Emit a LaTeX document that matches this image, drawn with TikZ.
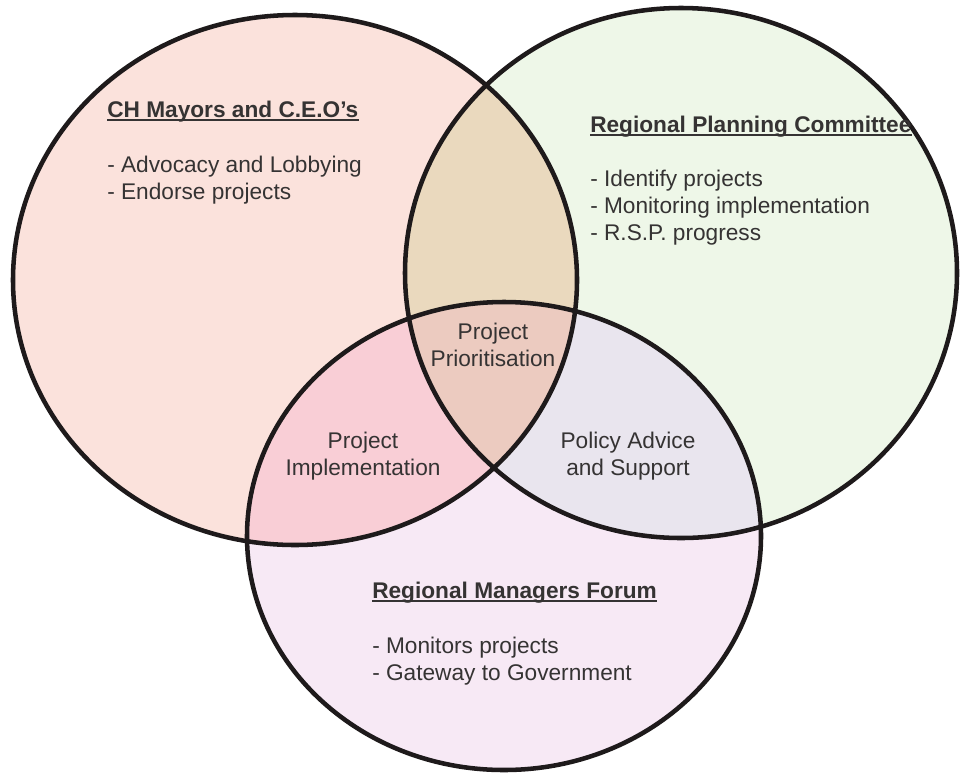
\documentclass[tikz,border=0pt]{standalone}
\usepackage{fontspec}
\setmainfont{Liberation Sans}
\definecolor{cLeft}{HTML}{FBE2DC}
\definecolor{cRight}{HTML}{EEF7E8}
\definecolor{cBottom}{HTML}{F7E9F5}
\definecolor{cLR}{HTML}{EAD9BE}
\definecolor{cLB}{HTML}{F9CED6}
\definecolor{cRB}{HTML}{E9E5EE}
\definecolor{cAll}{HTML}{ECCBC0}
\definecolor{outline}{HTML}{1E1A1B}
\definecolor{txt}{HTML}{353333}
\tikzset{
  ring/.style={draw=outline, line width=3.4pt},
  body/.style={font=\fontsize{17}{20}\selectfont, text=txt, inner sep=0pt, align=left, anchor=base west},
  heading/.style={font=\fontsize{17}{20}\selectfont\bfseries, text=txt, inner sep=0pt, anchor=base west},
  overlap/.style={font=\fontsize{17}{20}\selectfont, text=txt, inner sep=0pt, align=center},
  rule/.style={draw=txt, line width=1pt}
}
\newcommand{\setL}{(295,280) ellipse [x radius=211.5pt, y radius=198.75pt]}
\newcommand{\setR}{(681,273) ellipse [x radius=207pt, y radius=198.75pt]}
\newcommand{\setB}{(504,536) ellipse [x radius=192.75pt, y radius=175.5pt]}
\begin{document}
\begin{tikzpicture}[x=0.75pt, y=-0.75pt]
  \useasboundingbox (0,0) rectangle (960,775);
  % single-set fills
  \fill[cLeft] \setL;
  \fill[cRight] \setR;
  \fill[cBottom] \setB;
  % pairwise overlaps
  \begin{scope} \clip \setL; \fill[cLR] \setR; \end{scope}
  \begin{scope} \clip \setL; \fill[cLB] \setB; \end{scope}
  \begin{scope} \clip \setR; \fill[cRB] \setB; \end{scope}
  % triple overlap
  \begin{scope} \clip \setL; \clip \setR; \fill[cAll] \setB; \end{scope}
  % outlines
  \draw[ring] \setL;
  \draw[ring] \setR;
  \draw[ring] \setB;

  % CH Mayors and C.E.O's (multi-line blocks are placed by their last baseline)
  \node[heading] (mayorsT) at (107,117) {CH Mayors and C.E.O’s};
  \draw[rule] ([yshift=-2.2pt]mayorsT.base west) -- ([yshift=-2.2pt]mayorsT.base east);
  \node[body] (mayorsB) at (107,199) {- Advocacy and Lobbying\\- Endorse projects};

  % Regional Planning Committee
  \node[heading] (rpcT) at (590,132) {Regional Planning Committee};
  \draw[rule] ([yshift=-2.2pt]rpcT.base west) -- ([yshift=-2.2pt]rpcT.base east);
  \node[body] (rpcB) at (590,240) {- Identify projects\\- Monitoring implementation\\- R.S.P. progress};

  % Regional Managers Forum
  \node[heading] (rmfT) at (372,598) {Regional Managers Forum};
  \draw[rule] ([yshift=-2.2pt]rmfT.base west) -- ([yshift=-2.2pt]rmfT.base east);
  \node[body] (rmfB) at (372,680) {- Monitors projects\\- Gateway to Government};

  % overlap labels
  \node[overlap] (prio) at (493,345) {Project\\Prioritisation};
  \node[overlap] (impl) at (363,456) {Project\\Implementation};
  \node[overlap] (policy) at (628,456) {Policy Advice\\and Support};
\end{tikzpicture}
\end{document}
